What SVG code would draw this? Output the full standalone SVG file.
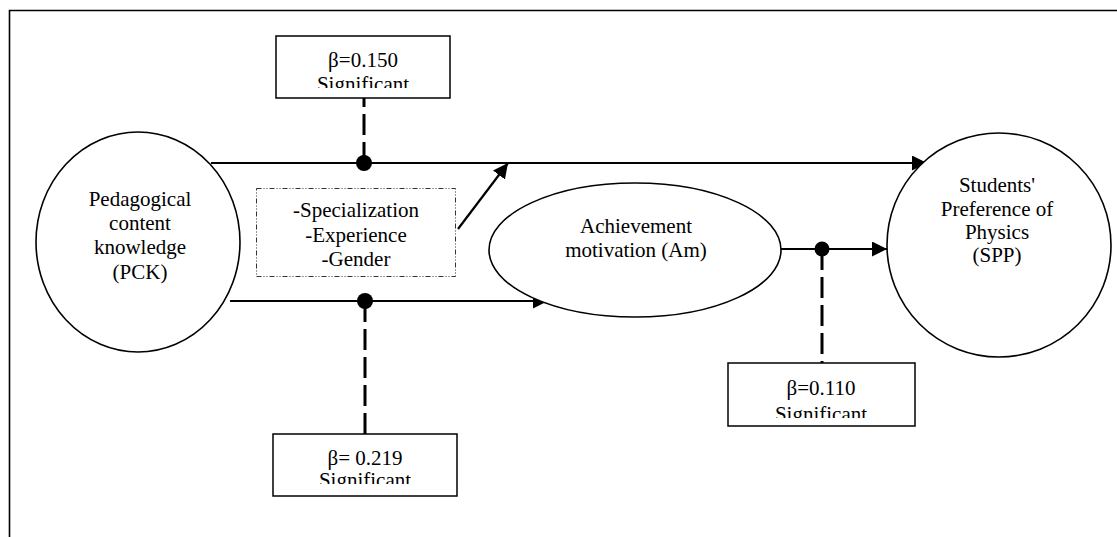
<svg xmlns="http://www.w3.org/2000/svg" width="1117" height="537" viewBox="0 0 1117 537" font-family="'Liberation Serif', 'Times New Roman', 'DejaVu Serif', serif">
<style>
  text { font-family: 'Liberation Serif', 'Times New Roman', 'DejaVu Serif', serif; font-size: 21px; fill: #000; text-anchor: middle; }
  .node { fill: #fff; stroke: #000; stroke-width: 1.6; }
  .box { fill: #fff; stroke: #000; stroke-width: 1.5; }
  .mod { fill: #fff; stroke: #333; stroke-width: 1; stroke-dasharray: 5 2 1 2 1 2; }
  .conn { fill: none; stroke: #000; stroke-width: 2.2; }
  .dash { fill: none; stroke: #000; stroke-width: 3; stroke-dasharray: 21 7; }
  .dot { fill: #000; }
</style>
<defs>
  <marker id="arrow" markerUnits="userSpaceOnUse" markerWidth="16" markerHeight="15" refX="15" refY="7.5" orient="auto">
    <path d="M0,0 L15,7.5 L0,15 z" fill="#000"/>
  </marker>
  <clipPath id="clipTop"><rect x="276" y="36" width="174" height="52"/></clipPath>
  <clipPath id="clipBottom"><rect x="273" y="434" width="184" height="50"/></clipPath>
  <clipPath id="clipRight"><rect x="728" y="363" width="187" height="55"/></clipPath>
</defs>

<g id="frame">
  <path d="M9.5,537 L9.5,10.5 L1117,10.5" fill="none" stroke="#000" stroke-width="1.6"/>
</g>

<g id="connectors">
  <path class="conn" d="M211,163 L927,163" marker-end="url(#arrow)"/>
  <path class="conn" d="M230,301 L548,301" marker-end="url(#arrow)"/>
  <path class="conn" d="M781,249 L887,249" marker-end="url(#arrow)"/>
  <path class="conn" d="M458,229 L508,163" marker-end="url(#arrow)"/>
  <path class="dash" d="M364,163 L364,98"/>
  <path class="dash" d="M365,301 L365,434"/>
  <path class="dash" d="M822,249 L822,363"/>
  <circle class="dot" cx="364" cy="163" r="8"/>
  <circle class="dot" cx="365" cy="301" r="8"/>
  <circle class="dot" cx="822" cy="249" r="7.5"/>
</g>

<g id="pck">
  <ellipse class="node" cx="138" cy="242" rx="102" ry="110"/>
  <text x="140" y="206">Pedagogical</text>
  <text x="140" y="230">content</text>
  <text x="140" y="254">knowledge</text>
  <text x="140" y="279">(PCK)</text>
</g>

<g id="moderators">
  <rect class="mod" x="256.5" y="188.5" width="199" height="88"/>
  <text x="356" y="217">-Specialization</text>
  <text x="356" y="242">-Experience</text>
  <text x="356" y="266">-Gender</text>
</g>

<g id="am">
  <ellipse class="node" cx="635" cy="250" rx="146" ry="67"/>
  <text x="636" y="233">Achievement</text>
  <text x="636" y="257">motivation (Am)</text>
</g>

<g id="spp">
  <ellipse class="node" cx="999" cy="245" rx="112" ry="112"/>
  <text x="997" y="192">Students'</text>
  <text x="997" y="216">Preference of</text>
  <text x="997" y="239">Physics</text>
  <text x="997" y="262">(SPP)</text>
</g>

<g id="beta-pck-spp">
  <rect class="box" x="276" y="36" width="174" height="62"/>
  <text x="363" y="67">β=0.150</text>
  <text x="363" y="91" clip-path="url(#clipTop)">Significant</text>
</g>

<g id="beta-pck-am">
  <rect class="box" x="273" y="434" width="184" height="62"/>
  <text x="365" y="465">β= 0.219</text>
  <text x="365" y="487" clip-path="url(#clipBottom)">Significant</text>
</g>

<g id="beta-am-spp">
  <rect class="box" x="728" y="363" width="187" height="63"/>
  <text x="821" y="395">β=0.110</text>
  <text x="821" y="421" clip-path="url(#clipRight)">Significant</text>
</g>
</svg>
